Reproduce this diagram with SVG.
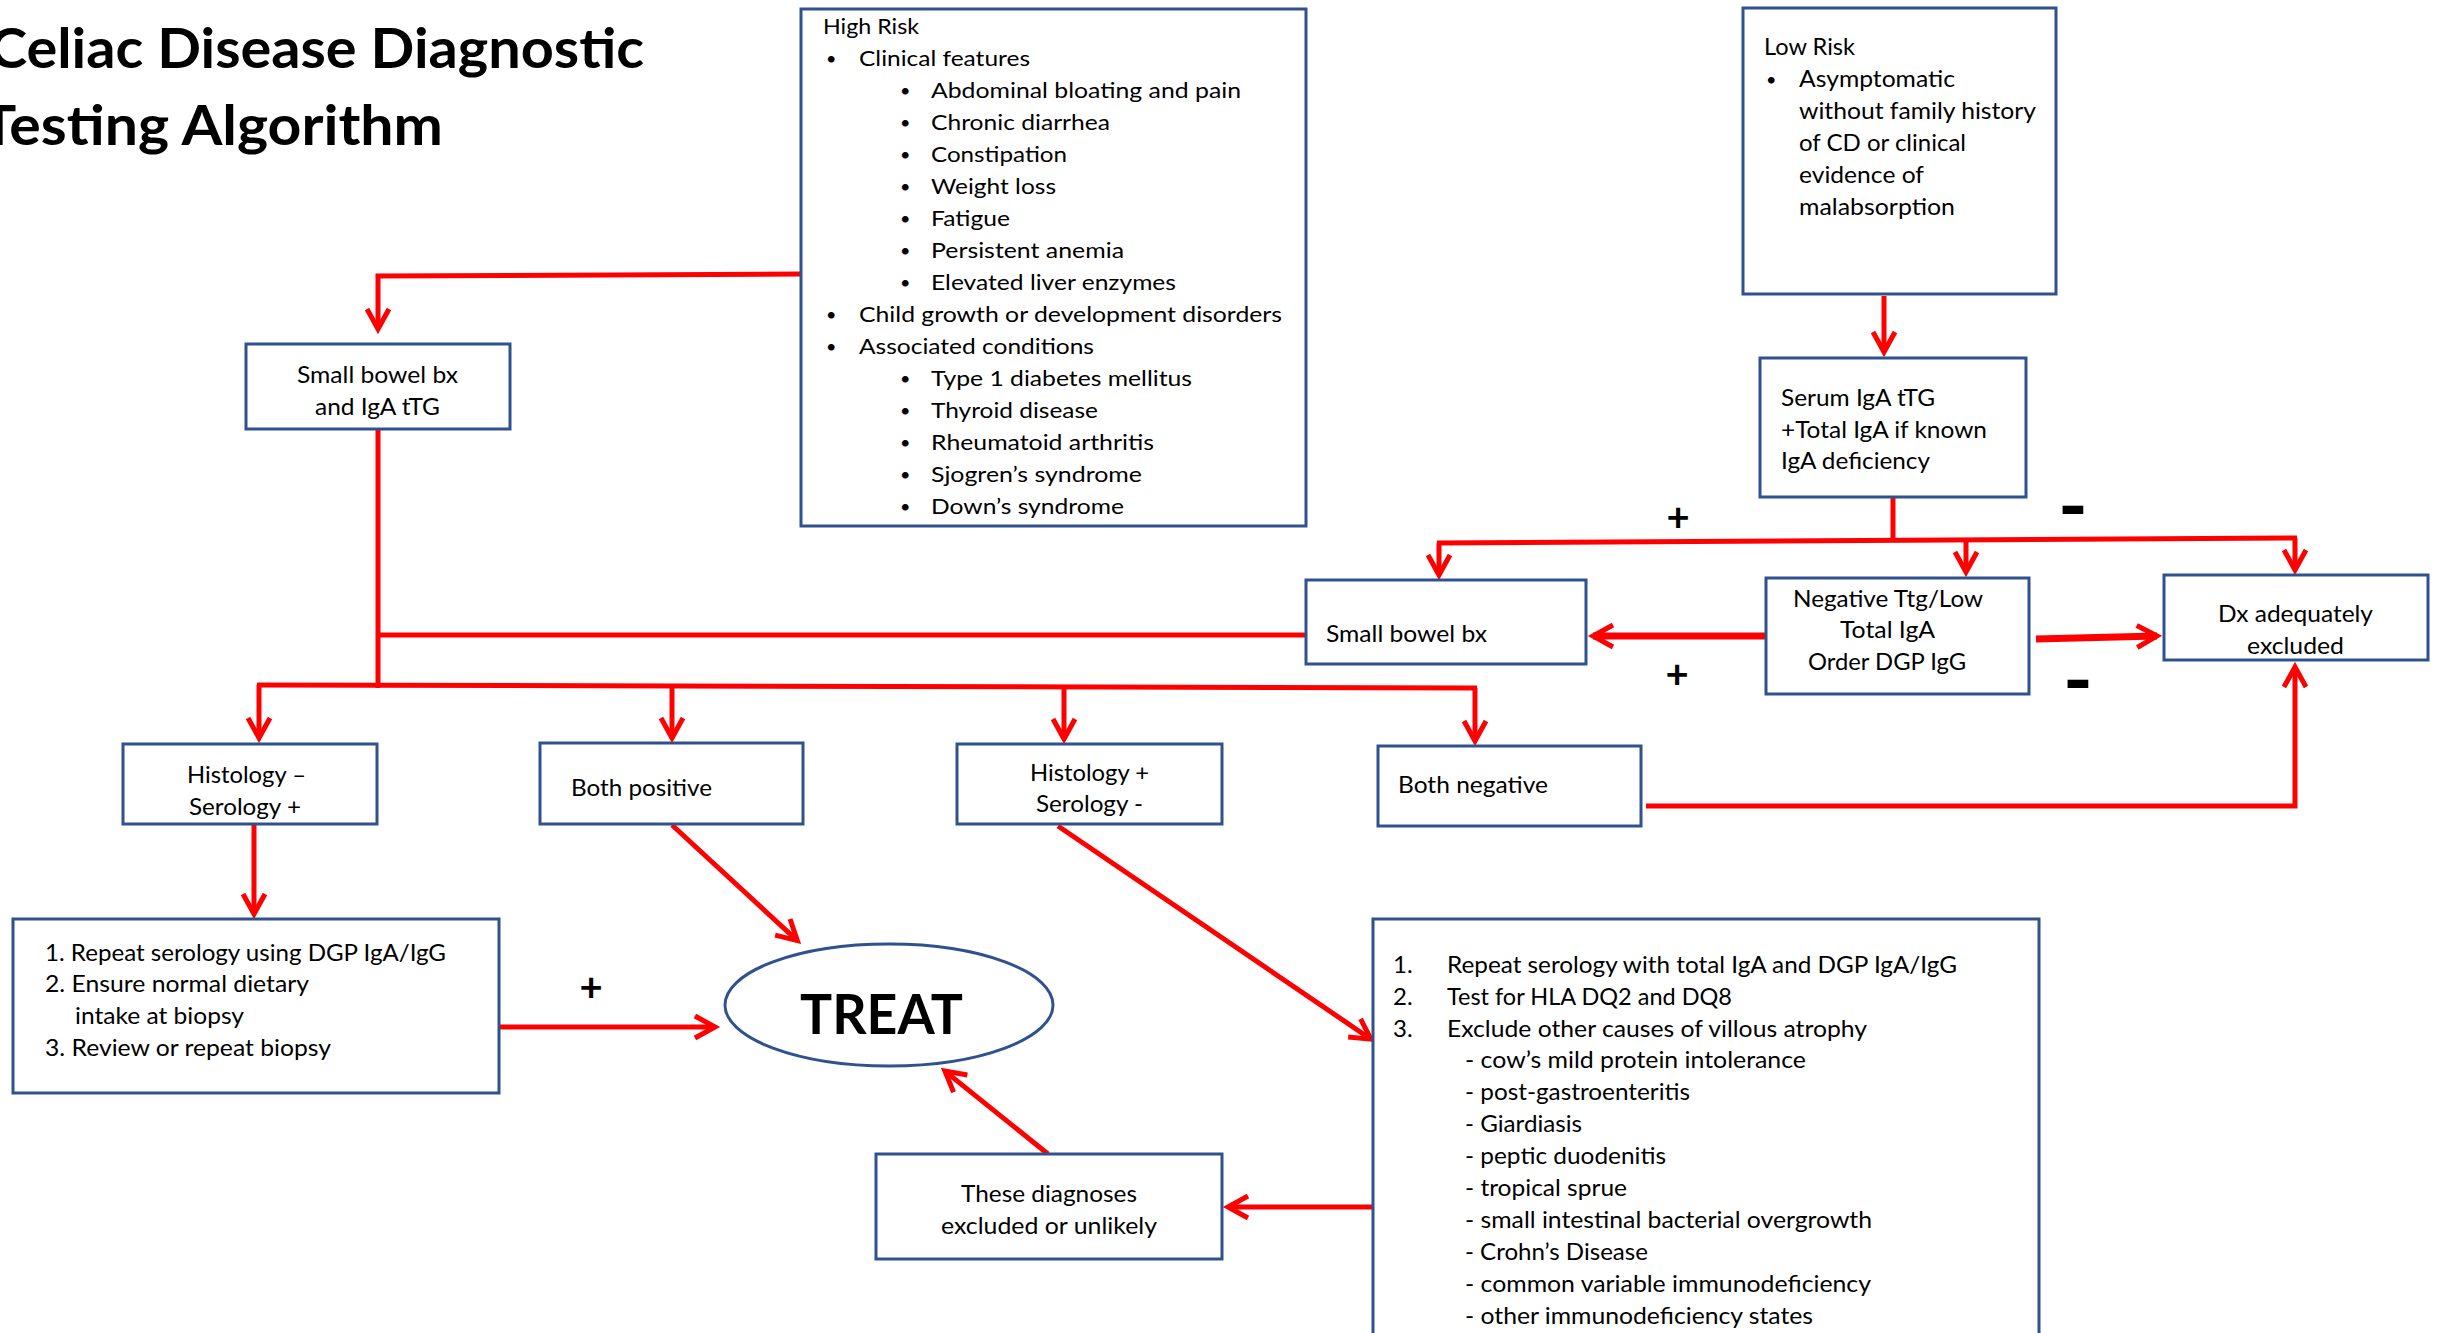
<svg xmlns="http://www.w3.org/2000/svg" width="2440" height="1333" viewBox="0 0 2440 1333">
<style>
.box{fill:#fff;stroke:#2F528F;stroke-width:3}
.t{font-family:Lato,"Open Sans","Liberation Sans",sans-serif;font-size:22px;fill:#000}
.b{font-family:Lato,"Open Sans","Liberation Sans",sans-serif;font-size:18px;fill:#000}
.cd{font-family:Lato,"Open Sans","Liberation Sans",sans-serif;font-size:24px;fill:#000}
.title{font-family:Lato,"Open Sans","Liberation Sans",sans-serif;font-size:56px;font-weight:bold;fill:#000}
.sign{font-family:Lato,"Open Sans","Liberation Sans",sans-serif;font-size:40px;font-weight:bold;fill:#000;text-anchor:middle}
.minus{font-family:Lato,"Open Sans","Liberation Sans",sans-serif;font-size:80px;font-weight:bold;fill:#000;text-anchor:middle}
.c{fill:none;stroke:#FF0000;stroke-width:5;stroke-linejoin:miter}
.ca{fill:none;stroke:#FF0000;stroke-width:5;marker-end:url(#ah)}
.cb{fill:none;stroke:#FF0000;stroke-width:7;marker-end:url(#ah)}
</style>
<defs>
<marker id="ah" markerUnits="userSpaceOnUse" markerWidth="30" markerHeight="30" refX="0" refY="0" orient="auto" overflow="visible">
<path d="M-20,-11 L0,0 L-20,11" fill="none" stroke="#FF0000" stroke-width="5" stroke-linejoin="miter"/>
</marker>
</defs>
<rect width="2440" height="1333" fill="#fff"/>

<g id="title">
<text class="title" x="-11" y="68" textLength="655" lengthAdjust="spacingAndGlyphs">Celiac Disease Diagnostic</text>
<text class="title" x="-19" y="145" textLength="462" lengthAdjust="spacingAndGlyphs">Testing Algorithm</text>
</g>

<g id="connectors">
<path class="ca" d="M801,274 L378,276 L378,329"/>
<path class="c" d="M378,429 V688"/>
<path class="c" d="M257,685 L1477,688"/>
<path class="c" d="M380,635 H1306"/>
<path class="ca" d="M259,685 V738"/>
<path class="ca" d="M672,686 V738"/>
<path class="ca" d="M1064,687 V739"/>
<path class="ca" d="M1475,688 V741"/>
<path class="ca" d="M1884,296 V352"/>
<path class="c" d="M1893,497 V542"/>
<path class="c" d="M1437,543 L2297,538"/>
<path class="ca" d="M1439,543 V575"/>
<path class="ca" d="M1966,540 V572"/>
<path class="ca" d="M2295,538 V570"/>
<path class="cb" d="M1766,636 H1593"/>
<path class="cb" d="M2036,639 L2157,636"/>
<path class="ca" d="M1646,806 H2295 V667"/>
<path class="ca" d="M254,824 V914"/>
<path class="ca" d="M500,1027 H715"/>
<path class="ca" d="M672,825 L797.3,940.6"/>
<path class="ca" d="M1058,826 L1370.9,1039.2"/>
<path class="ca" d="M1373,1207 H1228"/>
<path class="ca" d="M1048,1154 L944.9,1071.1"/>
</g>

<g id="signs">
<text class="sign" x="1678" y="531">+</text>
<text class="sign" x="1677" y="688">+</text>
<text class="sign" x="591" y="1001">+</text>
<text class="minus" x="2073" y="534">-</text>
<text class="minus" x="2078" y="708">-</text>
</g>

<g id="high-risk">
<rect class="box" x="801" y="9" width="505" height="517"/>
<text class="t" x="823" y="34" textLength="96" lengthAdjust="spacingAndGlyphs">High Risk</text>
<text class="b" x="826" y="65">•</text>
<text class="t" x="859" y="66" textLength="171" lengthAdjust="spacingAndGlyphs">Clinical features</text>
<text class="b" x="900" y="97">•</text>
<text class="t" x="931" y="98" textLength="310" lengthAdjust="spacingAndGlyphs">Abdominal bloating and pain</text>
<text class="b" x="900" y="129">•</text>
<text class="t" x="931" y="130" textLength="179" lengthAdjust="spacingAndGlyphs">Chronic diarrhea</text>
<text class="b" x="900" y="161">•</text>
<text class="t" x="931" y="162" textLength="136" lengthAdjust="spacingAndGlyphs">Constipation</text>
<text class="b" x="900" y="193">•</text>
<text class="t" x="931" y="194" textLength="125" lengthAdjust="spacingAndGlyphs">Weight loss</text>
<text class="b" x="900" y="225">•</text>
<text class="t" x="931" y="226" textLength="79" lengthAdjust="spacingAndGlyphs">Fatigue</text>
<text class="b" x="900" y="257">•</text>
<text class="t" x="931" y="258" textLength="193" lengthAdjust="spacingAndGlyphs">Persistent anemia</text>
<text class="b" x="900" y="289">•</text>
<text class="t" x="931" y="290" textLength="245" lengthAdjust="spacingAndGlyphs">Elevated liver enzymes</text>
<text class="b" x="826" y="321">•</text>
<text class="t" x="859" y="322" textLength="423" lengthAdjust="spacingAndGlyphs">Child growth or development disorders</text>
<text class="b" x="826" y="353">•</text>
<text class="t" x="859" y="354" textLength="235" lengthAdjust="spacingAndGlyphs">Associated conditions</text>
<text class="b" x="900" y="385">•</text>
<text class="t" x="931" y="386" textLength="261" lengthAdjust="spacingAndGlyphs">Type 1 diabetes mellitus</text>
<text class="b" x="900" y="417">•</text>
<text class="t" x="931" y="418" textLength="167" lengthAdjust="spacingAndGlyphs">Thyroid disease</text>
<text class="b" x="900" y="449">•</text>
<text class="t" x="931" y="450" textLength="223" lengthAdjust="spacingAndGlyphs">Rheumatoid arthritis</text>
<text class="b" x="900" y="481">•</text>
<text class="t" x="931" y="482" textLength="211" lengthAdjust="spacingAndGlyphs">Sjogren’s syndrome</text>
<text class="b" x="900" y="513">•</text>
<text class="t" x="931" y="514" textLength="193" lengthAdjust="spacingAndGlyphs">Down’s syndrome</text>
</g>

<g id="low-risk">
<rect class="box" x="1743" y="8" width="313" height="286"/>
<text class="cd" x="1764" y="55" textLength="91" lengthAdjust="spacingAndGlyphs">Low Risk</text>
<text class="b" x="1766" y="86">•</text>
<text class="cd" x="1799" y="87" textLength="156" lengthAdjust="spacingAndGlyphs">Asymptomatic</text>
<text class="cd" x="1799" y="119" textLength="237" lengthAdjust="spacingAndGlyphs">without family history</text>
<text class="cd" x="1799" y="151" textLength="167" lengthAdjust="spacingAndGlyphs">of CD or clinical</text>
<text class="cd" x="1799" y="183" textLength="125" lengthAdjust="spacingAndGlyphs">evidence of</text>
<text class="cd" x="1799" y="215" textLength="156" lengthAdjust="spacingAndGlyphs">malabsorption</text>
</g>

<g id="serum">
<rect class="box" x="1760" y="358" width="266" height="139"/>
<text class="cd" x="1781" y="406" textLength="154" lengthAdjust="spacingAndGlyphs">Serum IgA tTG</text>
<text class="cd" x="1781" y="438" textLength="206" lengthAdjust="spacingAndGlyphs">+Total IgA if known</text>
<text class="cd" x="1781" y="469" textLength="149" lengthAdjust="spacingAndGlyphs">IgA deficiency</text>
</g>

<g id="small-bowel-igA">
<rect class="box" x="246" y="344" width="264" height="85"/>
<text class="cd" x="297" y="383" textLength="161" lengthAdjust="spacingAndGlyphs">Small bowel bx</text>
<text class="cd" x="315" y="415" textLength="125" lengthAdjust="spacingAndGlyphs">and IgA tTG</text>
</g>

<g id="small-bowel-right">
<rect class="box" x="1306" y="580" width="280" height="84"/>
<text class="cd" x="1326" y="642" textLength="161" lengthAdjust="spacingAndGlyphs">Small bowel bx</text>
</g>

<g id="negative-ttg">
<rect class="box" x="1766" y="578" width="263" height="116"/>
<text class="cd" x="1793" y="607" textLength="190" lengthAdjust="spacingAndGlyphs">Negative Ttg/Low</text>
<text class="cd" x="1840" y="638" textLength="95" lengthAdjust="spacingAndGlyphs">Total IgA</text>
<text class="cd" x="1808" y="670" textLength="158" lengthAdjust="spacingAndGlyphs">Order DGP IgG</text>
</g>

<g id="dx-excluded">
<rect class="box" x="2164" y="575" width="264" height="85"/>
<text class="cd" x="2218" y="622" textLength="155" lengthAdjust="spacingAndGlyphs">Dx adequately</text>
<text class="cd" x="2247" y="654" textLength="97" lengthAdjust="spacingAndGlyphs">excluded</text>
</g>

<g id="histology-minus">
<rect class="box" x="123" y="744" width="254" height="80"/>
<text class="cd" x="187" y="783" textLength="119" lengthAdjust="spacingAndGlyphs">Histology –</text>
<text class="cd" x="189" y="815" textLength="112" lengthAdjust="spacingAndGlyphs">Serology +</text>
</g>

<g id="both-positive">
<rect class="box" x="540" y="743" width="263" height="81"/>
<text class="cd" x="571" y="796" textLength="141" lengthAdjust="spacingAndGlyphs">Both positive</text>
</g>

<g id="histology-plus">
<rect class="box" x="957" y="744" width="265" height="80"/>
<text class="cd" x="1030" y="781" textLength="119" lengthAdjust="spacingAndGlyphs">Histology +</text>
<text class="cd" x="1036" y="812" textLength="107" lengthAdjust="spacingAndGlyphs">Serology -</text>
</g>

<g id="both-negative">
<rect class="box" x="1378" y="746" width="263" height="80"/>
<text class="cd" x="1398" y="793" textLength="150" lengthAdjust="spacingAndGlyphs">Both negative</text>
</g>

<g id="repeat-serology">
<rect class="box" x="13" y="919" width="486" height="174"/>
<text class="cd" x="45" y="961" textLength="401" lengthAdjust="spacingAndGlyphs">1. Repeat serology using DGP IgA/IgG</text>
<text class="cd" x="45" y="992" textLength="264" lengthAdjust="spacingAndGlyphs">2. Ensure normal dietary</text>
<text class="cd" x="75" y="1024" textLength="169" lengthAdjust="spacingAndGlyphs">intake at biopsy</text>
<text class="cd" x="45" y="1056" textLength="286" lengthAdjust="spacingAndGlyphs">3. Review or repeat biopsy</text>
</g>

<g id="treat">
<ellipse cx="889" cy="1005" rx="164" ry="61" fill="#fff" stroke="#2F528F" stroke-width="3"/>
<text class="title" x="800" y="1034" textLength="163" lengthAdjust="spacingAndGlyphs">TREAT</text>
</g>

<g id="these-diagnoses">
<rect class="box" x="876" y="1154" width="346" height="105"/>
<text class="cd" x="961" y="1202" textLength="176" lengthAdjust="spacingAndGlyphs">These diagnoses</text>
<text class="cd" x="941" y="1234" textLength="216" lengthAdjust="spacingAndGlyphs">excluded or unlikely</text>
</g>

<g id="exclude-box">
<rect class="box" x="1373" y="919" width="666" height="440"/>
<text class="cd" x="1393" y="973">1.</text>
<text class="cd" x="1447" y="973" textLength="510" lengthAdjust="spacingAndGlyphs">Repeat serology with total IgA and DGP IgA/IgG</text>
<text class="cd" x="1393" y="1005">2.</text>
<text class="cd" x="1447" y="1005" textLength="285" lengthAdjust="spacingAndGlyphs">Test for HLA DQ2 and DQ8</text>
<text class="cd" x="1393" y="1037">3.</text>
<text class="cd" x="1447" y="1037" textLength="420" lengthAdjust="spacingAndGlyphs">Exclude other causes of villous atrophy</text>
<text class="cd" x="1465" y="1068" textLength="341" lengthAdjust="spacingAndGlyphs">- cow’s mild protein intolerance</text>
<text class="cd" x="1465" y="1100" textLength="225" lengthAdjust="spacingAndGlyphs">- post-gastroenteritis</text>
<text class="cd" x="1465" y="1132" textLength="117" lengthAdjust="spacingAndGlyphs">- Giardiasis</text>
<text class="cd" x="1465" y="1164" textLength="201" lengthAdjust="spacingAndGlyphs">- peptic duodenitis</text>
<text class="cd" x="1465" y="1196" textLength="162" lengthAdjust="spacingAndGlyphs">- tropical sprue</text>
<text class="cd" x="1465" y="1228" textLength="407" lengthAdjust="spacingAndGlyphs">- small intestinal bacterial overgrowth</text>
<text class="cd" x="1465" y="1260" textLength="183" lengthAdjust="spacingAndGlyphs">- Crohn’s Disease</text>
<text class="cd" x="1465" y="1292" textLength="406" lengthAdjust="spacingAndGlyphs">- common variable immunodeficiency</text>
<text class="cd" x="1465" y="1324" textLength="348" lengthAdjust="spacingAndGlyphs">- other immunodeficiency states</text>
</g>
</svg>
